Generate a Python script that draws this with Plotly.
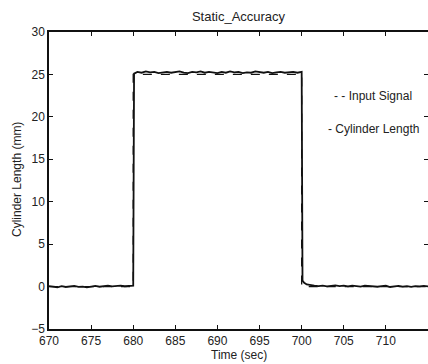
import plotly.graph_objects as go

# Input signal (step command)
input_time = [670, 680, 680, 700, 700, 715]
input_len = [0, 0, 25, 25, 0, 0]

cyl_time = [670.0, 670.5, 671.0, 671.5, 672.0, 672.5, 673.0, 673.5, 674.0, 674.5,
            675.0, 675.5, 676.0, 676.5, 677.0, 677.5, 678.0, 678.5, 679.0, 679.5,
            680.0, 680.1, 680.5, 681.0, 681.5, 682.0, 682.5, 683.0, 683.5, 684.0,
            684.5, 685.0, 685.5, 686.0, 686.5, 687.0, 687.5, 688.0, 688.5, 689.0,
            689.5, 690.0, 690.5, 691.0, 691.5, 692.0, 692.5, 693.0, 693.5, 694.0,
            694.5, 695.0, 695.5, 696.0, 696.5, 697.0, 697.5, 698.0, 698.5, 699.0,
            699.5, 700.0, 700.1, 700.3, 700.6, 701.0, 701.5, 702.0, 702.5, 703.0,
            703.5, 704.0, 704.5, 705.0, 705.5, 706.0, 706.5, 707.0, 707.5, 708.0,
            708.5, 709.0, 709.5, 710.0, 710.5, 711.0, 711.5, 712.0, 712.5, 713.0,
            713.5, 714.0, 714.5, 715.0]
cyl_len = [0.05, 0.00, -0.08, 0.04, -0.05, 0.02, 0.08, -0.03, 0.00, -0.10,
           0.03, 0.07, -0.02, 0.05, 0.10, 0.02, 0.08, 0.12, 0.04, 0.06,
           0.10, 25.10, 25.30, 25.20, 25.35, 25.25, 25.30, 25.15, 25.25, 25.30,
           25.20, 25.25, 25.35, 25.20, 25.15, 25.30, 25.25, 25.35, 25.20, 25.30,
           25.25, 25.15, 25.30, 25.20, 25.35, 25.25, 25.30, 25.15, 25.25, 25.20,
           25.35, 25.25, 25.20, 25.30, 25.15, 25.25, 25.30, 25.20, 25.25, 25.30,
           25.20, 25.30, 0.70, 0.45, 0.25, 0.15, 0.10, 0.05, 0.12, 0.02,
           0.08, 0.15, 0.05, 0.10, 0.03, 0.12, 0.06, 0.00, 0.10, 0.05,
           0.08, -0.02, 0.06, 0.10, -0.05, 0.04, 0.08, 0.00, 0.06, -0.03,
           0.05, 0.02, 0.08, 0.03]

x_ticks = [670, 675, 680, 685, 690, 695, 700, 705, 710]
y_ticks = [-5, 0, 5, 10, 15, 20, 25, 30]

font_family = "Liberation Sans, Arial, sans-serif"
ink = "#222222"

W, H = 428, 364
L, R, T, B = 49, 428, 32, 329  # plot area in pixels

fig = go.Figure()
fig.add_trace(go.Scatter(x=input_time, y=input_len, mode="lines", name="Input Signal",
                         line=dict(color="#111111", width=1.3, dash="dash")))
fig.add_trace(go.Scatter(x=cyl_time, y=cyl_len, mode="lines", name="Cylinder Length",
                         line=dict(color="#111111", width=1.8)))

axis_common = dict(showline=True, linecolor="#111111", linewidth=1.5, mirror="ticks",
                   ticks="inside", ticklen=4, tickcolor="#111111", showgrid=False,
                   zeroline=False, automargin=False,
                   tickfont=dict(family=font_family, size=12, color=ink))

fig.update_xaxes(range=[670, 715], tickvals=x_ticks, **axis_common)
fig.update_yaxes(range=[-5, 30], tickvals=y_ticks, **axis_common)


def px_to_paper(px, py):
    return (px - L) / (R - L), (B - py) / (B - T)


texts = [
    ("- - Input Signal", 414, 96, "right", 0),
    ("- Cylinder Length", 421, 129, "right", 0),
    ("Time (sec)", 239, 355, "center", 0),
    ("Cylinder Length (mm)", 17, 180, "center", -90),
]
for txt, px, py, xa, ang in texts:
    ax_, ay_ = px_to_paper(px, py)
    fig.add_annotation(x=ax_, y=ay_, xref="paper", yref="paper", text=txt,
                       showarrow=False, xanchor=xa, yanchor="middle", textangle=ang,
                       font=dict(family=font_family, size=12, color=ink))

fig.update_layout(
    width=W, height=H,
    margin=dict(l=L, r=W - R, t=T, b=H - B, autoexpand=False),
    paper_bgcolor="white", plot_bgcolor="white",
    showlegend=False,
    title=dict(text="Static_Accuracy", x=(L + R) / 2 / W, xanchor="center",
               y=1 - 16 / H, yanchor="middle",
               font=dict(family=font_family, size=13, color=ink)),
)

fig.write_html("out.html", config={"displayModeBar": False},
               post_script="document.body.style.margin='0';document.body.style.overflow='hidden';")
